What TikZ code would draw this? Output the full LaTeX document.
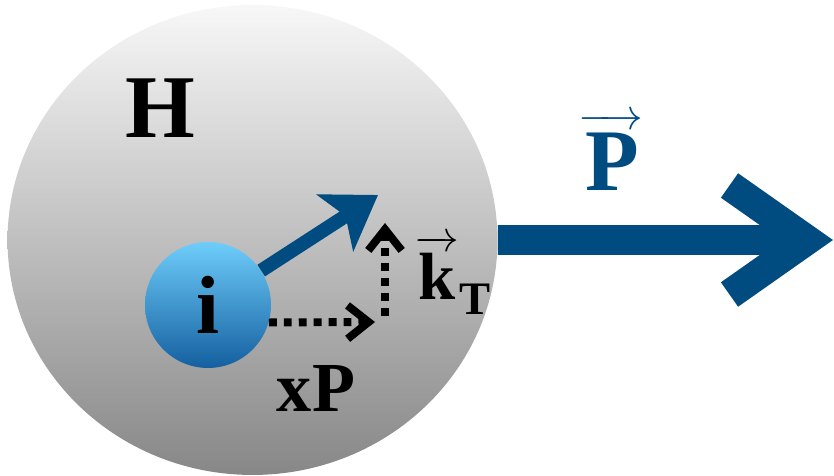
\documentclass[tikz,border=0pt]{standalone}
\usepackage{fontspec}
\setmainfont{Liberation Serif}
\usetikzlibrary{arrows.meta, shapes.geometric}
\definecolor{pblue}{RGB}{0,75,128}
\definecolor{plight}{RGB}{110,205,250}
\definecolor{pdark}{RGB}{20,95,160}
\tikzset{
  dotarrow/.style={line width=4.5pt, dash pattern=on 4.5pt off 4pt, -{Straight Barb[length=12pt, width=19pt]}},
  biglabel/.style={inner sep=0, font=\fontsize{#1}{#1}\selectfont\bfseries},
}

\begin{document}
\begin{tikzpicture}[x=0.02cm, y=-0.02cm]
  \useasboundingbox (0,0) rectangle (834,476);
  % hadron and parton
  \node[ellipse, minimum width=9.8cm, minimum height=9.4cm, inner sep=0, top color=black!3, bottom color=black!47] (hadron) at (252.5,240) {};
  \node[circle, minimum size=2.52cm, top color=plight, bottom color=pdark, biglabel=47] (parton) at (208,305) {i};
  \node[biglabel=51] (hlabel) at (160,108) {H};
  \node[biglabel=40] (xlabel) at (316,388) {xP};
  % momentum of the hadron
  \coordinate (headtip) at (807,240);
  \coordinate (headup) at (729.5,185.5);
  \coordinate (headdown) at (729.5,294.5);
  \draw[pblue, line width=17pt] (hadron.east) -- (headtip) (headup) -- (headtip) -- (headdown);
  \node[pblue, anchor=base, biglabel=50] (plabel) at (611,191) {$\overrightarrow{\kern4pt\rule{0pt}{36pt}\textbf{P}\kern2pt}$};
  % parton momentum and its parts
  \coordinate (ptip) at (378,195);
  \draw[pblue, line width=7.9pt, -{Stealth[length=29pt, width=38pt, inset=7pt]}] (parton) -- (ptip);
  \coordinate (xend) at (375,322);
  \coordinate (kstart) at (385,316);
  \coordinate (kend) at (385,223);
  \draw[dotarrow] (parton.-16) -- (xend);
  \draw[dotarrow] (kstart) -- (kend);
  \node[anchor=base west, biglabel=38] (klabel) at (415,299) {$\overrightarrow{\rule{0pt}{28pt}\textbf{k}}$\raisebox{-9pt}{\fontsize{26.5}{26.5}\selectfont\bfseries T}};
\end{tikzpicture}
\end{document}
